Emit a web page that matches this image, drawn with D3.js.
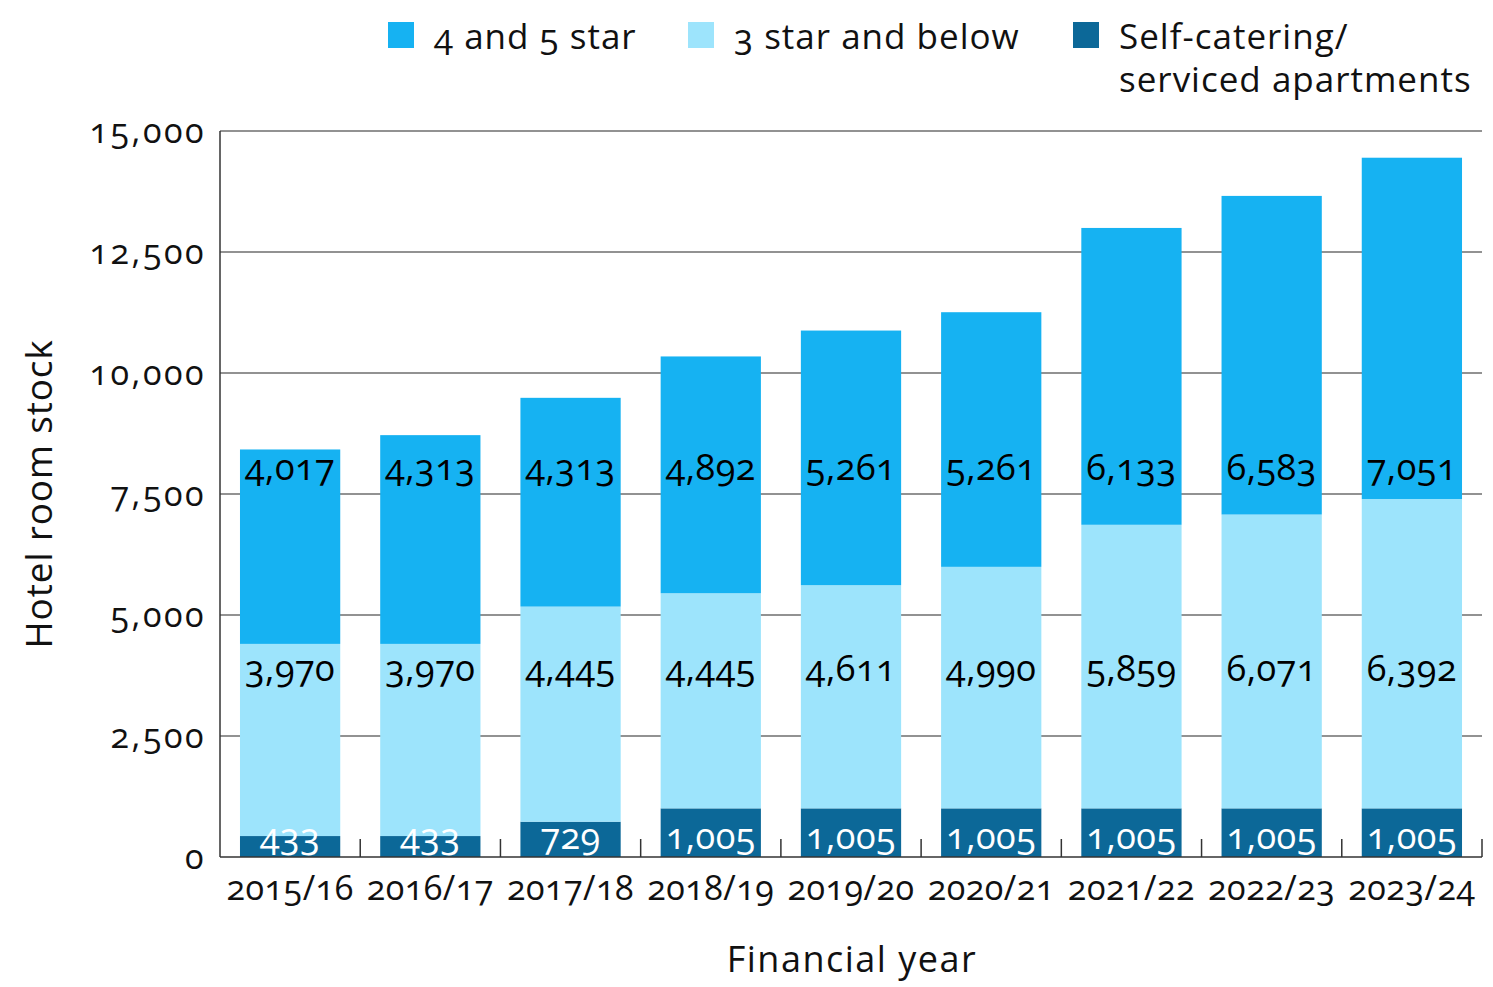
<!DOCTYPE html>
<html>
<head>
<meta charset="utf-8">
<script src="https://cdn.jsdelivr.net/npm/d3@7"></script>
<style>
  body { margin: 0; background: #fff; }
  svg text { font-family: "Open Sans", "Noto Sans", sans-serif; font-variant-numeric: oldstyle-nums; fill: #111; }
</style>
</head>
<body>
<div id="chart"></div>
<script>
// data
var years = ['2015/16', '2016/17', '2017/18', '2018/19', '2019/20', '2020/21', '2021/22', '2022/23', '2023/24'];
var selfCatering = [433, 433, 729, 1005, 1005, 1005, 1005, 1005, 1005];
var threeStar = [3970, 3970, 4445, 4445, 4611, 4990, 5859, 6071, 6392];
var fourFiveStar = [4017, 4313, 4313, 4892, 5261, 5261, 6133, 6583, 7051];
var yTicks = [0, 2500, 5000, 7500, 10000, 12500, 15000];

var seriesNames = ['Self-catering/ serviced apartments', '3 star and below', '4 and 5 star'];
var seriesColors = ['#0c6898', '#9de4fc', '#16b2f2'];

// constants
const WIDTH = 1493, HEIGHT = 987;
const margin = {left: 220, right: 11, top: 131, bottom: 130};
const innerW = WIDTH - margin.left - margin.right;
const innerH = HEIGHT - margin.top - margin.bottom;

var rows = years.map(function (y, i) {
  return {year: y, self: selfCatering[i], three: threeStar[i], four: fourFiveStar[i]};
});
var keys = ['self', 'three', 'four'];
var stacked = d3.stack().keys(keys)(rows);

var svg = d3.select('#chart').append('svg')
  .attr('width', WIDTH)
  .attr('height', HEIGHT);

var x = d3.scaleBand().domain(years).range([0, innerW]).paddingInner(0.285).paddingOuter(0.1425);
var y = d3.scaleLinear().domain([0, 15000]).range([innerH, 0]);
var step = x.step();

var g = svg.append('g').attr('transform', 'translate(' + margin.left + ',' + margin.top + ')');

// grid lines
g.selectAll('line.grid').data(yTicks.filter(d => d > 0))
  .enter().append('line')
  .attr('x1', 0).attr('x2', innerW)
  .attr('y1', d => y(d)).attr('y2', d => y(d))
  .attr('stroke', '#6e6e6e').attr('stroke-width', 1.5);

// bars
var layers = g.selectAll('g.layer').data(stacked)
  .enter().append('g')
  .attr('fill', (d, i) => seriesColors[i]);

layers.selectAll('rect').data(d => d)
  .enter().append('rect')
  .attr('x', d => x(d.data.year))
  .attr('width', x.bandwidth())
  .attr('y', d => y(d[1]))
  .attr('height', d => y(d[0]) - y(d[1]));

// value labels
var fmt = d3.format(',');
var labelY = {self: innerH - 8, three: y(3500) - 7, four: y(7500) - 14};
keys.forEach(function (k) {
  g.selectAll('text.lbl-' + k).data(rows)
    .enter().append('text')
    .attr('x', d => x(d.year) + x.bandwidth() / 2)
    .attr('y', labelY[k])
    .attr('text-anchor', 'middle')
    .attr('font-size', 36)
    .attr('font-weight', 500)
    .attr('letter-spacing', 0.5)
    .style('fill', k === 'self' ? '#fff' : '#000')
    .text(d => fmt(d[k]));
});

// axes
g.append('line').attr('x1', 0).attr('x2', 0).attr('y1', 0).attr('y2', innerH)
  .attr('stroke', '#333').attr('stroke-width', 1.5);
g.append('line').attr('x1', 0).attr('x2', innerW).attr('y1', innerH).attr('y2', innerH)
  .attr('stroke', '#333').attr('stroke-width', 1.5);
g.selectAll('line.xtick').data(d3.range(1, years.length + 1))
  .enter().append('line')
  .attr('x1', d => d * step).attr('x2', d => d * step)
  .attr('y1', innerH).attr('y2', innerH - 18)
  .attr('stroke', '#333').attr('stroke-width', 1.5);

// y tick labels
g.selectAll('text.ytick').data(yTicks)
  .enter().append('text')
  .attr('x', -14)
  .attr('y', d => y(d) + 12)
  .attr('text-anchor', 'end')
  .attr('font-size', 34)
  .attr('letter-spacing', 2.5)
  .text(d => fmt(d));

// x tick labels
g.selectAll('text.xtick').data(years)
  .enter().append('text')
  .attr('x', d => x(d) + x.bandwidth() / 2)
  .attr('y', innerH + 43)
  .attr('text-anchor', 'middle')
  .attr('font-size', 34)
  .attr('letter-spacing', 0.5)
  .text(d => d);

// axis titles
svg.append('text')
  .attr('x', 852).attr('y', 972)
  .attr('text-anchor', 'middle')
  .attr('font-size', 36)
  .attr('letter-spacing', 1.5)
  .text('Financial year');

svg.append('text')
  .attr('transform', 'translate(52,494) rotate(-90)')
  .attr('text-anchor', 'middle')
  .attr('font-size', 37)
  .attr('letter-spacing', 0.8)
  .text('Hotel room stock');

// legend
var legendItems = [
  {x: 388, color: seriesColors[2], lines: ['4 and 5 star']},
  {x: 688, color: seriesColors[1], lines: ['3 star and below']},
  {x: 1073, color: seriesColors[0], lines: ['Self-catering/', 'serviced apartments']}
];
var legend = svg.selectAll('g.legend').data(legendItems)
  .enter().append('g')
  .attr('transform', d => 'translate(' + d.x + ',0)');
legend.append('rect')
  .attr('x', 0).attr('y', 22)
  .attr('width', 26).attr('height', 26)
  .attr('fill', d => d.color);
legend.selectAll('text').data(d => d.lines)
  .enter().append('text')
  .attr('x', 46)
  .attr('y', (d, i) => 49 + i * 43)
  .attr('font-size', 35)
  .attr('letter-spacing', 1)
  .text(d => d);
</script>
</body>
</html>
